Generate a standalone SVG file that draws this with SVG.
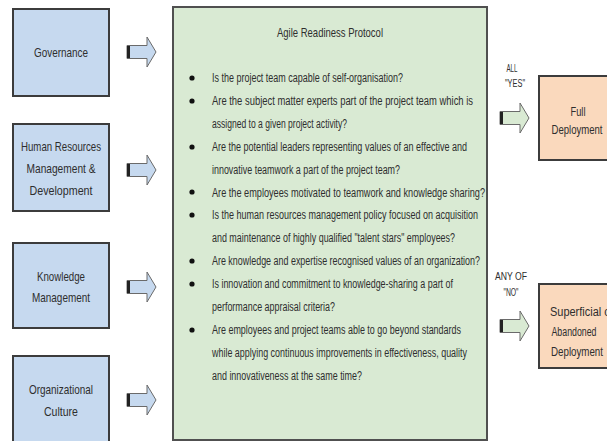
<svg xmlns="http://www.w3.org/2000/svg" width="607" height="441" viewBox="0 0 607 441">
<style>
.bg{fill:#ffffff}
.lbox{fill:#c6d9ef;stroke:#3c3c3c;stroke-width:2}
.gbox{fill:#d9ead3;stroke:#505050;stroke-width:2}
.obox{fill:#fad9bd;stroke:#3c3c3c;stroke-width:2}
.t{font-family:"Liberation Sans Narrow","Liberation Sans",Arial,sans-serif;fill:#2e2e2e}
.bx{font-size:13px;text-anchor:middle}
.ox{font-size:12px;text-anchor:middle}
.bl{font-size:12.5px}
.lab{font-size:10px;text-anchor:middle}
.blt{fill:#111111}
.ab{fill:#c6d9ef;stroke:#6a6a6a;stroke-width:1}
.ag{fill:#d9ead3;stroke:#6a6a6a;stroke-width:1}
.ae{stroke:#222222;stroke-width:3}
</style>
<defs>
<path id="arr" d="M0,-6.5 H20 V-15 L29,0 L20,15 V6.5 H0 Z"/>
</defs>
<rect class="bg" x="0" y="0" width="607" height="441"/>

<g id="governance">
<rect class="lbox" x="13" y="9" width="96" height="87"/>
<text class="t bx" x="61" y="57" textLength="54" lengthAdjust="spacingAndGlyphs">Governance</text>
</g>
<g id="hr">
<rect class="lbox" x="13" y="124" width="96" height="87"/>
<text class="t bx" x="61" y="151" textLength="80" lengthAdjust="spacingAndGlyphs">Human Resources</text>
<text class="t bx" x="61" y="173" textLength="69" lengthAdjust="spacingAndGlyphs">Management &amp;</text>
<text class="t bx" x="61" y="195" textLength="63" lengthAdjust="spacingAndGlyphs">Development</text>
</g>
<g id="knowledge">
<rect class="lbox" x="13" y="243" width="96" height="85"/>
<text class="t bx" x="61" y="281" textLength="48" lengthAdjust="spacingAndGlyphs">Knowledge</text>
<text class="t bx" x="61" y="302" textLength="58" lengthAdjust="spacingAndGlyphs">Management</text>
</g>
<g id="culture">
<rect class="lbox" x="13" y="356" width="96" height="100"/>
<text class="t bx" x="61" y="394" textLength="64" lengthAdjust="spacingAndGlyphs">Organizational</text>
<text class="t bx" x="61" y="416" textLength="34" lengthAdjust="spacingAndGlyphs">Culture</text>
</g>

<g id="protocol">
<rect class="gbox" x="173" y="7" width="314" height="433"/>
<text class="t" x="330" y="37" font-size="13.5" text-anchor="middle" textLength="106" lengthAdjust="spacingAndGlyphs">Agile Readiness Protocol</text>
<g class="blt">
<circle cx="192" cy="78" r="2.6"/>
<circle cx="192" cy="101" r="2.6"/>
<circle cx="192" cy="147" r="2.6"/>
<circle cx="192" cy="192" r="2.6"/>
<circle cx="192" cy="215" r="2.6"/>
<circle cx="192" cy="261" r="2.6"/>
<circle cx="192" cy="284" r="2.6"/>
<circle cx="192" cy="330" r="2.6"/>
</g>
<text class="t bl" x="212" y="82" textLength="191" lengthAdjust="spacingAndGlyphs">Is the project team capable of self-organisation?</text>
<text class="t bl" x="212" y="105" textLength="261" lengthAdjust="spacingAndGlyphs">Are the subject matter experts part of the project team which is</text>
<text class="t bl" x="212" y="128" textLength="135" lengthAdjust="spacingAndGlyphs">assigned to a given project activity?</text>
<text class="t bl" x="212" y="151" textLength="255" lengthAdjust="spacingAndGlyphs">Are the potential leaders representing values of an effective and</text>
<text class="t bl" x="212" y="174" textLength="188" lengthAdjust="spacingAndGlyphs">innovative teamwork a part of the project team?</text>
<text class="t bl" x="212" y="197" textLength="273" lengthAdjust="spacingAndGlyphs">Are the employees motivated to teamwork and knowledge sharing?</text>
<text class="t bl" x="212" y="219" textLength="266" lengthAdjust="spacingAndGlyphs">Is the human resources management policy focused on acquisition</text>
<text class="t bl" x="212" y="242" textLength="243" lengthAdjust="spacingAndGlyphs">and maintenance of highly qualified "talent stars" employees?</text>
<text class="t bl" x="212" y="265" textLength="268" lengthAdjust="spacingAndGlyphs">Are knowledge and expertise recognised values of an organization?</text>
<text class="t bl" x="212" y="288" textLength="241" lengthAdjust="spacingAndGlyphs">Is innovation and commitment to knowledge-sharing a part of</text>
<text class="t bl" x="212" y="311" textLength="123" lengthAdjust="spacingAndGlyphs">performance appraisal criteria?</text>
<text class="t bl" x="212" y="334" textLength="249" lengthAdjust="spacingAndGlyphs">Are employees and project teams able to go beyond standards</text>
<text class="t bl" x="212" y="357" textLength="255" lengthAdjust="spacingAndGlyphs">while applying continuous improvements in effectiveness, quality</text>
<text class="t bl" x="212" y="380" textLength="150" lengthAdjust="spacingAndGlyphs">and innovativeness at the same time?</text>
</g>

<g id="full">
<rect class="obox" x="539" y="76" width="80" height="84"/>
<text class="t ox" x="578" y="116" textLength="15" lengthAdjust="spacingAndGlyphs">Full</text>
<text class="t ox" x="577" y="134" textLength="51" lengthAdjust="spacingAndGlyphs">Deployment</text>
</g>
<g id="abandoned">
<rect class="obox" x="539" y="284" width="80" height="84"/>
<text class="t" x="550" y="316" font-size="12" textLength="64" lengthAdjust="spacingAndGlyphs">Superficial or</text>
<text class="t ox" x="574" y="336" textLength="45" lengthAdjust="spacingAndGlyphs">Abandoned</text>
<text class="t ox" x="577" y="356" textLength="52" lengthAdjust="spacingAndGlyphs">Deployment</text>
</g>

<g id="connectors">
<g>
<use href="#arr" class="ab" transform="translate(127,52)"/>
<line class="ae" x1="128.5" y1="46" x2="128.5" y2="58"/>
</g>
<g>
<use href="#arr" class="ab" transform="translate(127,170)"/>
<line class="ae" x1="128.5" y1="164" x2="128.5" y2="176"/>
</g>
<g>
<use href="#arr" class="ab" transform="translate(127,287)"/>
<line class="ae" x1="128.5" y1="281" x2="128.5" y2="293"/>
</g>
<g>
<use href="#arr" class="ab" transform="translate(127,400)"/>
<line class="ae" x1="128.5" y1="394" x2="128.5" y2="406"/>
</g>
<g>
<use href="#arr" class="ag" transform="translate(500,118)"/>
<line class="ae" x1="501.5" y1="112" x2="501.5" y2="124"/>
<text class="t lab" x="512" y="72" textLength="11" lengthAdjust="spacingAndGlyphs">ALL</text>
<text class="t lab" x="515" y="87" textLength="20" lengthAdjust="spacingAndGlyphs">"YES"</text>
</g>
<g>
<use href="#arr" class="ag" transform="translate(500,326)"/>
<line class="ae" x1="501.5" y1="320" x2="501.5" y2="332"/>
<text class="t lab" x="511" y="280" textLength="32" lengthAdjust="spacingAndGlyphs">ANY OF</text>
<text class="t lab" x="511" y="296" textLength="15" lengthAdjust="spacingAndGlyphs">"NO"</text>
</g>
</g>
</svg>
